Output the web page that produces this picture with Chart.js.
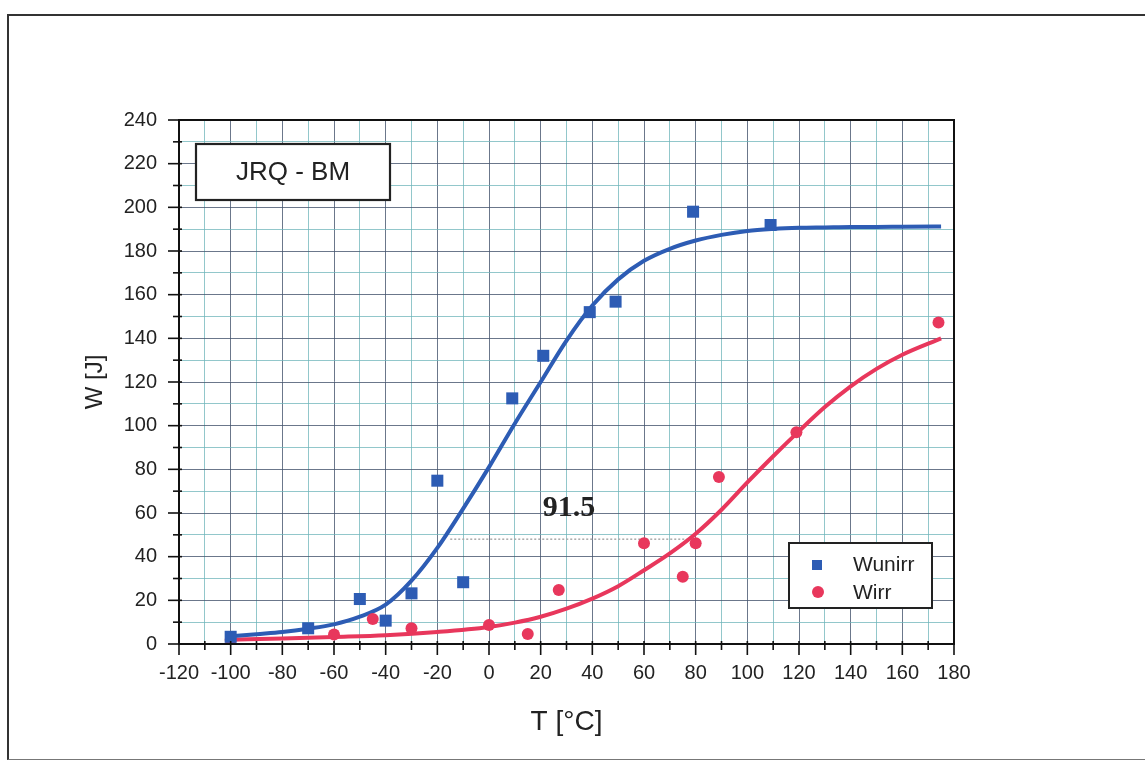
<!DOCTYPE html>
<html>
<head>
<meta charset="utf-8">
<title>JRQ - BM</title>
<script src="https://cdn.jsdelivr.net/npm/chart.js@4.4.1/dist/chart.umd.min.js"></script>
<style>
  html, body { margin: 0; padding: 0; background: #fff; }
  #wrap { position: relative; width: 1145px; height: 761px; }
  #frame {
    position: absolute; left: 7px; top: 14px; width: 1150px; height: 743px;
    border-top: 2px solid #333; border-left: 2px solid #333; border-bottom: 1px solid #777;
    pointer-events: none;
  }
</style>
</head>
<body>
<div id="wrap">
  <canvas id="chart"></canvas>
  <div id="frame"></div>
</div>
<script>
// measured points
const unirrT = [-100, -70, -50, -40, -30, -20, -10, 9, 21, 39, 49, 79, 109];
const unirrW = [3.3, 7.2, 20.6, 10.7, 23.2, 74.8, 28.3, 112.5, 132, 152, 156.8, 198, 191.9];
const irrT = [-100, -60, -45, -30, 0, 15, 27, 60, 75, 80, 89, 119, 174];
const irrW = [2, 4.4, 11.5, 7.2, 8.7, 4.6, 24.7, 46.1, 30.8, 46.1, 76.5, 97, 147.2];

// fitted curves
const unirrFitT = [-100, -90, -80, -70, -60, -50, -40, -30, -20, -10, 0, 10, 20, 30, 40, 50, 60, 70, 80, 90, 100, 110, 120, 130, 140, 150, 160, 175];
const unirrFitW = [3.5, 4.5, 5.5, 7, 9, 12.5, 18, 29, 44, 62, 81, 101, 120, 139, 155, 167, 175.5, 181, 184.8, 187.4, 189.2, 190.1, 190.6, 190.8, 191, 191, 191.1, 191.2];
const irrFitT = [-100, -80, -60, -40, -20, 0, 10, 20, 30, 40, 50, 60, 70, 80, 90, 100, 110, 120, 130, 140, 150, 160, 175];
const irrFitW = [2, 2.5, 3.2, 4, 5.5, 7.8, 9.8, 12.5, 16.2, 20.8, 26.5, 33.8, 41.5, 50.5, 61.5, 74, 86, 97.5, 108.5, 118, 126, 132.5, 140];

// shift between the curves at W = 48
const gapT = [-15, 76.5];
const gapW = [48, 48];
const gapLabel = '91.5';
const gapLabelPos = [31, 62];

const xTicks = { min: -120, max: 180, step: 10, labelEvery: 20 };
const yTicks = { min: 0, max: 240, step: 10, labelEvery: 20 };

const BLUE = '#2d5cb4';
const RED = '#e8375c';
const FONT = "'Liberation Sans', Arial, sans-serif";

const toXY = (xs, ys) => xs.map((v, i) => ({ x: v, y: ys[i] }));

const decor = {
  id: 'decor',
  afterDraw(chart) {
    const { ctx, chartArea: a, scales: { x, y } } = chart;
    ctx.save();

    // plot box
    ctx.strokeStyle = '#111';
    ctx.lineWidth = 2;
    ctx.strokeRect(a.left, a.top, a.right - a.left, a.bottom - a.top);

    // tick marks, long on labelled values
    ctx.lineWidth = 1.6;
    x.ticks.forEach(t => {
      const px = x.getPixelForValue(t.value);
      const len = t.value % 20 === 0 ? 11 : 6;
      ctx.beginPath();
      ctx.moveTo(px, a.bottom - 3);
      ctx.lineTo(px, a.bottom + len);
      ctx.stroke();
    });
    y.ticks.forEach(t => {
      const py = y.getPixelForValue(t.value);
      const len = t.value % 20 === 0 ? 11 : 6;
      ctx.beginPath();
      ctx.moveTo(a.left + 3, py);
      ctx.lineTo(a.left - len, py);
      ctx.stroke();
    });

    // name box
    ctx.fillStyle = '#fff';
    ctx.fillRect(196, 144, 194, 56);
    ctx.strokeStyle = '#222';
    ctx.lineWidth = 2.2;
    ctx.strokeRect(196, 144, 194, 56);
    ctx.fillStyle = '#222';
    ctx.font = '26px ' + FONT;
    ctx.textAlign = 'center';
    ctx.textBaseline = 'middle';
    ctx.fillText('JRQ - BM', 293, 173);

    // shift label
    ctx.font = "bold 30px 'Liberation Serif', 'Times New Roman', serif";
    ctx.fillStyle = '#222';
    ctx.fillText(gapLabel, x.getPixelForValue(gapLabelPos[0]), y.getPixelForValue(gapLabelPos[1]));

    // legend
    ctx.fillStyle = '#fff';
    ctx.fillRect(789, 543, 143, 65);
    ctx.strokeStyle = '#222';
    ctx.lineWidth = 2;
    ctx.strokeRect(789, 543, 143, 65);
    ctx.fillStyle = BLUE;
    ctx.fillRect(812, 560, 10, 10);
    ctx.fillStyle = RED;
    ctx.beginPath();
    ctx.arc(818, 592, 6, 0, Math.PI * 2);
    ctx.fill();
    ctx.fillStyle = '#222';
    ctx.font = '21px ' + FONT;
    ctx.textAlign = 'left';
    ctx.fillText('Wunirr', 853, 565);
    ctx.fillText('Wirr', 853, 593);

    ctx.restore();
  }
};

const gridColor = c => (c.tick && c.tick.value % 20 === 0) ? 'rgba(70,85,110,0.8)' : 'rgba(110,180,185,0.75)';

new Chart(document.getElementById('chart'), {
  type: 'scatter',
  data: {
    datasets: [
      {
        label: 'Wunirr',
        data: toXY(unirrT, unirrW),
        pointStyle: 'rect',
        pointRadius: 8.5,
        backgroundColor: BLUE,
        borderWidth: 0
      },
      {
        label: 'Wirr',
        data: toXY(irrT, irrW),
        pointStyle: 'circle',
        pointRadius: 6,
        backgroundColor: RED,
        borderWidth: 0
      },
      {
        label: 'Wunirr fit',
        data: toXY(unirrFitT, unirrFitW),
        showLine: true,
        borderColor: BLUE,
        borderWidth: 4,
        pointRadius: 0,
        cubicInterpolationMode: 'monotone'
      },
      {
        label: 'Wirr fit',
        data: toXY(irrFitT, irrFitW),
        showLine: true,
        borderColor: RED,
        borderWidth: 4,
        pointRadius: 0,
        cubicInterpolationMode: 'monotone'
      },
      {
        label: 'shift',
        data: toXY(gapT, gapW),
        showLine: true,
        borderColor: '#a9a9a9',
        borderWidth: 1.5,
        borderDash: [2, 2],
        pointRadius: 0
      }
    ]
  },
  options: {
    responsive: true,
    maintainAspectRatio: false,
    animation: false,
    layout: { padding: { left: 60, right: 191, top: 120, bottom: 20 } },
    plugins: {
      legend: { display: false },
      tooltip: { enabled: false }
    },
    scales: {
      x: {
        type: 'linear',
        min: xTicks.min,
        max: xTicks.max,
        afterFit: s => { s.height = 97; },
        grid: { color: gridColor, lineWidth: 1, drawTicks: false },
        border: { display: true, color: '#111', width: 2 },
        ticks: {
          stepSize: xTicks.step,
          autoSkip: false,
          maxRotation: 0,
          padding: 17,
          color: '#222',
          font: { family: FONT, size: 20 },
          callback: v => v % xTicks.labelEvery === 0 ? v : ''
        },
        title: {
          display: true,
          text: 'T [°C]',
          color: '#222',
          font: { family: FONT, size: 28 },
          padding: { top: 0, bottom: 2 }
        }
      },
      y: {
        type: 'linear',
        min: yTicks.min,
        max: yTicks.max,
        afterFit: s => { s.width = 119; },
        grid: { color: gridColor, lineWidth: 1, drawTicks: false },
        border: { display: true, color: '#111', width: 2 },
        ticks: {
          stepSize: yTicks.step,
          autoSkip: false,
          padding: 22,
          color: '#222',
          font: { family: FONT, size: 20 },
          callback: v => v % yTicks.labelEvery === 0 ? v : ''
        },
        title: {
          display: true,
          text: 'W [J]',
          color: '#222',
          font: { family: FONT, size: 24 },
          padding: { top: 21, bottom: 0 }
        }
      }
    }
  },
  plugins: [decor]
});
</script>
</body>
</html>
